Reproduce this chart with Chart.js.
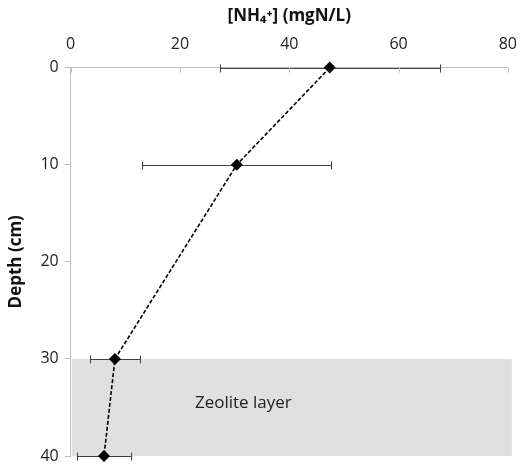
<!DOCTYPE html>
<html>
<head>
<meta charset="utf-8">
<script src="https://cdn.jsdelivr.net/npm/chart.js@4.4.1/dist/chart.umd.min.js"></script>
<style>
  body { margin: 0; background: #fff; }
  #wrap { width: 523px; height: 465px; }
</style>
</head>
<body>
<div id="wrap"><canvas id="myChart" width="523" height="465"></canvas></div>
<script>
// NH4+ concentration by depth, with standard deviation
const depths = [0, 10, 30, 40];
const nh4Mean = [47.4, 30.4, 8.1, 6.1];
const nh4Err = [20.1, 17.3, 4.5, 4.9];
const xTicks = [0, 20, 40, 60, 80];
const yTicks = [0, 10, 20, 30, 40];
const zeoliteTop = 30;
const zeoliteBottom = 40;
const zeoliteLabel = 'Zeolite layer';
const zeoliteLabelPos = { x: 31.6, y: 34.6 };

const font = "'Open Sans', 'Liberation Sans', sans-serif";

// gray band for the zeolite layer + its label
const zeolitePlugin = {
  id: 'zeolite',
  beforeDatasetsDraw(chart) {
    const { ctx, chartArea, scales } = chart;
    const y1 = scales.y.getPixelForValue(zeoliteTop);
    const y2 = scales.y.getPixelForValue(zeoliteBottom);
    ctx.save();
    ctx.fillStyle = '#e0e0e0';
    ctx.fillRect(chartArea.left + 1, y1, chartArea.right - chartArea.left + 3, y2 - y1);
    ctx.fillStyle = '#222';
    ctx.font = '17px ' + font;
    ctx.textAlign = 'center';
    ctx.textBaseline = 'middle';
    ctx.fillText(zeoliteLabel, scales.x.getPixelForValue(zeoliteLabelPos.x), scales.y.getPixelForValue(zeoliteLabelPos.y));
    ctx.restore();
  }
};

// horizontal error bars with caps
const errorBarPlugin = {
  id: 'errorBars',
  beforeDatasetsDraw(chart) {
    const { ctx, scales } = chart;
    ctx.save();
    ctx.strokeStyle = '#404040';
    ctx.lineWidth = 1;
    depths.forEach((d, i) => {
      const y = Math.round(scales.y.getPixelForValue(d)) + 0.5;
      const xl = Math.round(scales.x.getPixelForValue(nh4Mean[i] - nh4Err[i])) + 0.5;
      const xr = Math.round(scales.x.getPixelForValue(nh4Mean[i] + nh4Err[i])) + 0.5;
      ctx.beginPath();
      ctx.moveTo(xl, y); ctx.lineTo(xr, y);
      ctx.moveTo(xl, y - 4); ctx.lineTo(xl, y + 4);
      ctx.moveTo(xr, y - 4); ctx.lineTo(xr, y + 4);
      ctx.stroke();
    });
    ctx.restore();
  }
};

// top axis tick marks point down into the plot
const innerTicksPlugin = {
  id: 'innerTicks',
  afterDraw(chart) {
    const { ctx, chartArea, scales } = chart;
    ctx.save();
    ctx.strokeStyle = '#bfbfbf';
    ctx.lineWidth = 1;
    xTicks.forEach(v => {
      const x = Math.round(scales.x.getPixelForValue(v)) + 0.5;
      ctx.beginPath();
      ctx.moveTo(x, chartArea.top);
      ctx.lineTo(x, chartArea.top + 5);
      ctx.stroke();
    });
    ctx.restore();
  }
};

const ctx = document.getElementById('myChart');
new Chart(ctx, {
  type: 'scatter',
  data: {
    datasets: [{
      data: depths.map((d, i) => ({ x: nh4Mean[i], y: d })),
      showLine: true,
      clip: false,
      borderColor: '#000',
      borderWidth: 1.6,
      borderDash: [4, 2],
      pointStyle: 'rectRot',
      pointRadius: 6,
      pointBackgroundColor: '#000',
      pointBorderColor: '#000',
      pointBorderWidth: 0
    }]
  },
  options: {
    responsive: false,
    animation: false,
    layout: { padding: { top: 6, right: 0, bottom: 0, left: 6 } },
    plugins: {
      legend: { display: false },
      tooltip: { enabled: false }
    },
    scales: {
      x: {
        position: 'top',
        min: 0,
        max: 80,
        afterBuildTicks: axis => { axis.ticks = xTicks.map(v => ({ value: v })); },
        ticks: { color: '#222', font: { family: font, size: 16 }, padding: 6 },
        grid: { display: false },
        border: { display: true, color: '#bfbfbf', width: 1 },
        title: {
          display: true,
          text: '[NH\u2084\u207A] (mgN/L)',
          color: '#111',
          font: { family: font, size: 17, weight: 'bold' },
          padding: { top: 0, bottom: 2 }
        }
      },
      y: {
        reverse: true,
        min: 0,
        max: 40,
        afterBuildTicks: axis => { axis.ticks = yTicks.map(v => ({ value: v })); },
        afterFit: axis => { axis.paddingBottom = 9; },
        ticks: { color: '#222', font: { family: font, size: 16 }, padding: 6 },
        grid: { display: true, drawOnChartArea: false, drawTicks: true, tickLength: 6, color: '#bfbfbf' },
        border: { display: true, color: '#bfbfbf', width: 1 },
        title: {
          display: true,
          text: 'Depth (cm)',
          color: '#111',
          font: { family: font, size: 17, weight: 'bold' },
          padding: { top: 0, bottom: 8 }
        }
      }
    }
  },
  plugins: [zeolitePlugin, errorBarPlugin, innerTicksPlugin]
});
</script>
</body>
</html>
